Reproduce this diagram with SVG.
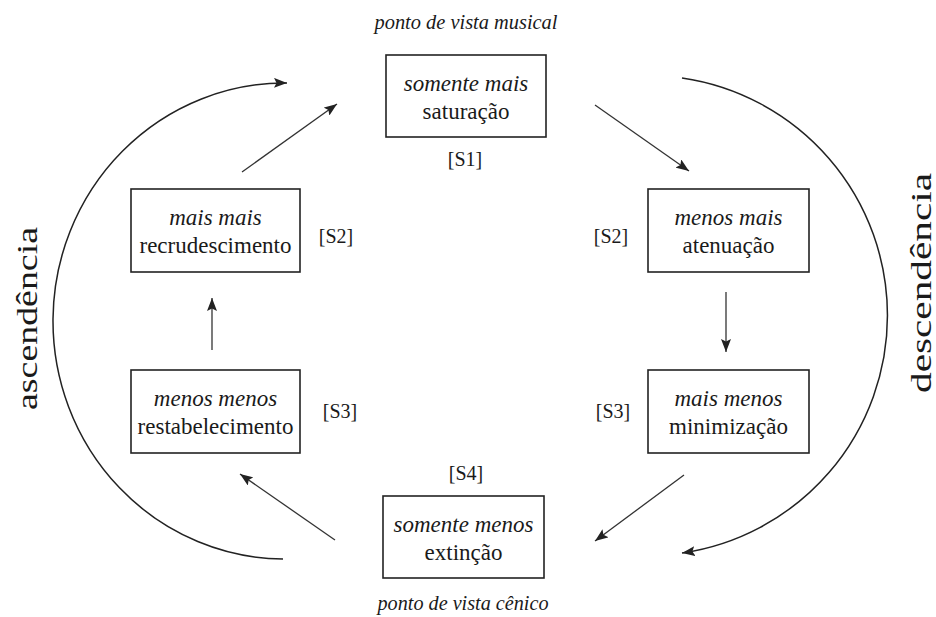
<svg xmlns="http://www.w3.org/2000/svg" width="936" height="617" viewBox="0 0 936 617">
<style>
  .box { fill: #ffffff; stroke: #222; stroke-width: 1.6; }
  .t { font-family: "Liberation Serif", "Times New Roman", serif; fill: #1a1a1a; text-anchor: middle; }
  .it { font-style: italic; }
  .main { font-size: 23px; }
  .lab { font-size: 20px; }
  .side { font-size: 30px; }
  .con { fill: none; stroke: #333; stroke-width: 1.3; }
  .arc { fill: none; stroke: #222; stroke-width: 1.5; }
</style>
<defs>
  <marker id="ah" markerUnits="userSpaceOnUse" markerWidth="14" markerHeight="10" refX="13" refY="5" orient="auto">
    <path d="M0,0 L13,5 L0,10 L2.5,5 z" fill="#222"/>
  </marker>
</defs>
<rect width="936" height="617" fill="#ffffff"/>

<g id="connectors">
  <path class="arc" d="M 283 559 A 232 238 0 0 1 287 83" marker-end="url(#ah)"/>
  <path class="arc" d="M 682 78 A 240 240 0 0 1 682 553" marker-end="url(#ah)"/>
  <line class="con" x1="242" y1="172" x2="337" y2="104" marker-end="url(#ah)"/>
  <line class="con" x1="595" y1="105" x2="689" y2="171" marker-end="url(#ah)"/>
  <line class="con" x1="726" y1="292" x2="726" y2="352" marker-end="url(#ah)"/>
  <line class="con" x1="684" y1="475" x2="595" y2="541" marker-end="url(#ah)"/>
  <line class="con" x1="335" y1="540" x2="240" y2="474" marker-end="url(#ah)"/>
  <line class="con" x1="212" y1="350" x2="212" y2="298" marker-end="url(#ah)"/>
</g>

<g id="labels">
  <text class="t it lab" x="466" y="29" font-size="19" textLength="183" lengthAdjust="spacingAndGlyphs">ponto de vista musical</text>
  <text class="t it lab" x="463" y="610" font-size="19" textLength="171" lengthAdjust="spacingAndGlyphs">ponto de vista cênico</text>
  <text class="t lab" x="465" y="166">[S1]</text>
  <text class="t lab" x="336" y="243">[S2]</text>
  <text class="t lab" x="611" y="243">[S2]</text>
  <text class="t lab" x="340" y="418">[S3]</text>
  <text class="t lab" x="613" y="418">[S3]</text>
  <text class="t lab" x="466" y="480">[S4]</text>
  <text class="t side" transform="translate(37,318.5) rotate(-90)" textLength="183" lengthAdjust="spacingAndGlyphs">ascendência</text>
  <text class="t side" transform="translate(931,283) rotate(-90)" textLength="220" lengthAdjust="spacingAndGlyphs">descendência</text>
</g>

<g id="s1">
  <rect class="box" x="386" y="55" width="160" height="82"/>
  <text class="t it main" x="466" y="91">somente mais</text>
  <text class="t main" x="466" y="119">saturação</text>
</g>
<g id="s2-left">
  <rect class="box" x="131" y="189" width="169" height="83"/>
  <text class="t it main" x="215.5" y="225">mais mais</text>
  <text class="t main" x="215.5" y="253">recrudescimento</text>
</g>
<g id="s2-right">
  <rect class="box" x="648" y="189" width="161" height="83"/>
  <text class="t it main" x="728.5" y="225">menos mais</text>
  <text class="t main" x="728.5" y="253">atenuação</text>
</g>
<g id="s3-left">
  <rect class="box" x="131" y="370" width="169" height="83"/>
  <text class="t it main" x="215.5" y="406">menos menos</text>
  <text class="t main" x="215.5" y="434">restabelecimento</text>
</g>
<g id="s3-right">
  <rect class="box" x="648" y="370" width="161" height="83"/>
  <text class="t it main" x="728.5" y="406">mais menos</text>
  <text class="t main" x="728.5" y="434">minimização</text>
</g>
<g id="s4">
  <rect class="box" x="383" y="496" width="161" height="82"/>
  <text class="t it main" x="463.5" y="532">somente menos</text>
  <text class="t main" x="463.5" y="560">extinção</text>
</g>
</svg>
